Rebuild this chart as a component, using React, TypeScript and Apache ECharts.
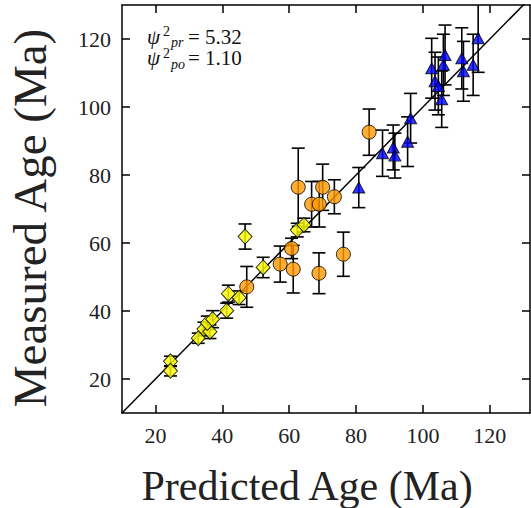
import React, { useEffect, useRef } from "react";
import * as echarts from "echarts";

// ---- data ----
const yellowX = [24.5, 24.5, 32.8, 34.5, 36.3, 35.5, 37.1, 41.3, 41.8, 45.0, 46.8, 52.2, 62.4, 64.4];
const yellowY = [25.2, 22.4, 32.0, 34.7, 33.9, 36.5, 37.6, 40.1, 45.1, 43.9, 61.9, 52.8, 63.8, 65.3];
const yellowErr = [1.5, 1.5, 1.5, 2.0, 2.0, 2.0, 2.5, 2.2, 2.5, 2.0, 3.7, 3.0, 2.0, 2.0];

const orangeX = [83.9, 62.7, 70.0, 66.7, 69.0, 73.5, 60.7, 57.3, 61.2, 68.9, 76.2, 47.3];
const orangeY = [92.6, 76.4, 76.4, 71.4, 71.4, 73.6, 58.4, 53.8, 52.3, 51.1, 56.7, 47.1];
const orangeErr = [6.8, 11.5, 6.8, 6.7, 6.7, 5.0, 3.0, 5.3, 7.0, 6.0, 6.5, 6.0];

const blueX = [116.5, 115.0, 111.6, 112.1, 106.6, 106.1, 102.6, 103.6, 104.6, 105.6, 96.3, 95.4, 91.1, 91.6, 87.9, 80.8];
const blueY = [120.2, 112.4, 114.3, 110.5, 115.3, 112.4, 111.4, 107.6, 106.2, 102.3, 96.7, 89.8, 88.1, 85.7, 86.4, 76.3];
const blueErr = [10.0, 9.0, 9.0, 8.8, 8.8, 9.0, 8.8, 8.5, 8.5, 8.3, 7.3, 7.3, 6.6, 6.6, 6.8, 5.9];

const tickValues = [20, 40, 60, 80, 100, 120];
const identityLine = [[10, 10], [135, 135]];

const statSymbols = ["ψ", "ψ"];
const statSuperscripts = ["2", "2"];
const statSubscripts = ["pr", "po"];
const statValues = ["5.32", "1.10"];

const FONT = "Liberation Serif";

function zip3(a: number[], b: number[], c: number[]) {
  return a.map((v, i) => [v, b[i], c[i]]);
}

function txt(x: number, y: number, text: string, size: number, italic: boolean, lineHeight: number) {
  return {
    type: "text",
    x,
    y,
    style: {
      text,
      fontFamily: FONT,
      fontSize: size,
      fontStyle: italic ? "italic" : "normal",
      fill: "#111",
      textAlign: "left",
      textVerticalAlign: "middle",
      lineHeight,
    },
  };
}

export default function App() {
  const ref = useRef<HTMLDivElement>(null);
  useEffect(() => {
    if (!ref.current) return;
    const chart = echarts.init(ref.current, undefined, { renderer: "svg" });

    const errData = [
      ...zip3(yellowX, yellowY, yellowErr),
      ...zip3(orangeX, orangeY, orangeErr),
      ...zip3(blueX, blueY, blueErr),
    ];

    const axisCommon = (show: boolean) => ({
      type: "value",
      min: 10,
      splitLine: { show: false },
      axisLine: { show: true, onZero: false, lineStyle: { color: "#000", width: 1.5 } },
      axisTick: { show: true, inside: true, length: 8, customValues: tickValues, lineStyle: { color: "#000", width: 1.5 } },
      axisLabel: {
        show,
        customValues: tickValues,
        fontFamily: FONT,
        fontSize: 22,
        color: "#222",
        margin: 11,
      },
    });

    const option: any = {
      animation: false,
      backgroundColor: "#fff",
      textStyle: { fontFamily: FONT },
      grid: { left: 122, top: 5, width: 408, height: 408, containLabel: false },
      xAxis: [
        { ...axisCommon(true), max: 132, position: "bottom" },
        { ...axisCommon(false), max: 132, position: "top" },
      ],
      yAxis: [
        { ...axisCommon(true), max: 130, position: "left" },
        { ...axisCommon(false), max: 130, position: "right" },
      ],
      series: [
        {
          type: "line",
          data: identityLine,
          symbol: "none",
          lineStyle: { color: "#000", width: 1.5 },
          silent: true,
          clip: true,
          z: 1,
        },
        {
          type: "custom",
          clip: true,
          z: 2,
          data: errData,
          encode: { x: 0, y: 1 },
          renderItem: (params: any, api: any) => {
            const x = api.value(0);
            const y = api.value(1);
            const e = api.value(2);
            const top = api.coord([x, y + e]);
            const bot = api.coord([x, y - e]);
            const hw = 6.5;
            const st = { stroke: "#000", lineWidth: 1.6 };
            return {
              type: "group",
              children: [
                { type: "line", shape: { x1: top[0], y1: top[1], x2: bot[0], y2: bot[1] }, style: st },
                { type: "line", shape: { x1: top[0] - hw, y1: top[1], x2: top[0] + hw, y2: top[1] }, style: st },
                { type: "line", shape: { x1: bot[0] - hw, y1: bot[1], x2: bot[0] + hw, y2: bot[1] }, style: st },
              ],
            };
          },
        },
        {
          type: "scatter",
          z: 3,
          symbol: "diamond",
          symbolSize: [14, 15],
          data: yellowX.map((v, i) => [v, yellowY[i]]),
          itemStyle: { color: "#FFFF00", borderColor: "#000", borderWidth: 1 },
        },
        {
          type: "scatter",
          z: 3,
          symbol: "circle",
          symbolSize: 14,
          data: orangeX.map((v, i) => [v, orangeY[i]]),
          itemStyle: { color: "#FF9A00", borderColor: "#000", borderWidth: 1 },
        },
        {
          type: "scatter",
          z: 3,
          symbol: "triangle",
          symbolSize: [12, 11],
          data: blueX.map((v, i) => [v, blueY[i]]),
          itemStyle: { color: "#0000FF", borderColor: "#000", borderWidth: 1 },
        },
      ],
      graphic: [
        {
          type: "text", x: 307, y: 486,
          style: { text: "Predicted Age (Ma)", fontFamily: FONT, fontSize: 42, fill: "#222", textAlign: "center", textVerticalAlign: "middle" },
        },
        {
          type: "text", x: 30, y: 218, rotation: Math.PI / 2,
          style: { text: "Measured Age (Ma)", fontFamily: FONT, fontSize: 47, fill: "#222", textAlign: "center", textVerticalAlign: "middle" },
        },
        // annotation (two lines each, one element per column)
        txt(147, 47.5, statSymbols.join("\n"), 21, true, 21.5),
        txt(163, 42.5, statSuperscripts.join("\n"), 14, false, 21.5),
        txt(171, 53, statSubscripts.join("\n"), 14, true, 22),
        txt(188, 47.5, statValues.map((v) => "= " + v).join("\n"), 21, false, 21.5),
      ],
    };

    chart.setOption(option);
    return () => chart.dispose();
  }, []);

  return <div ref={ref} style={{ width: 531, height: 508, position: "absolute", left: 0, top: 0 }} />;
}
